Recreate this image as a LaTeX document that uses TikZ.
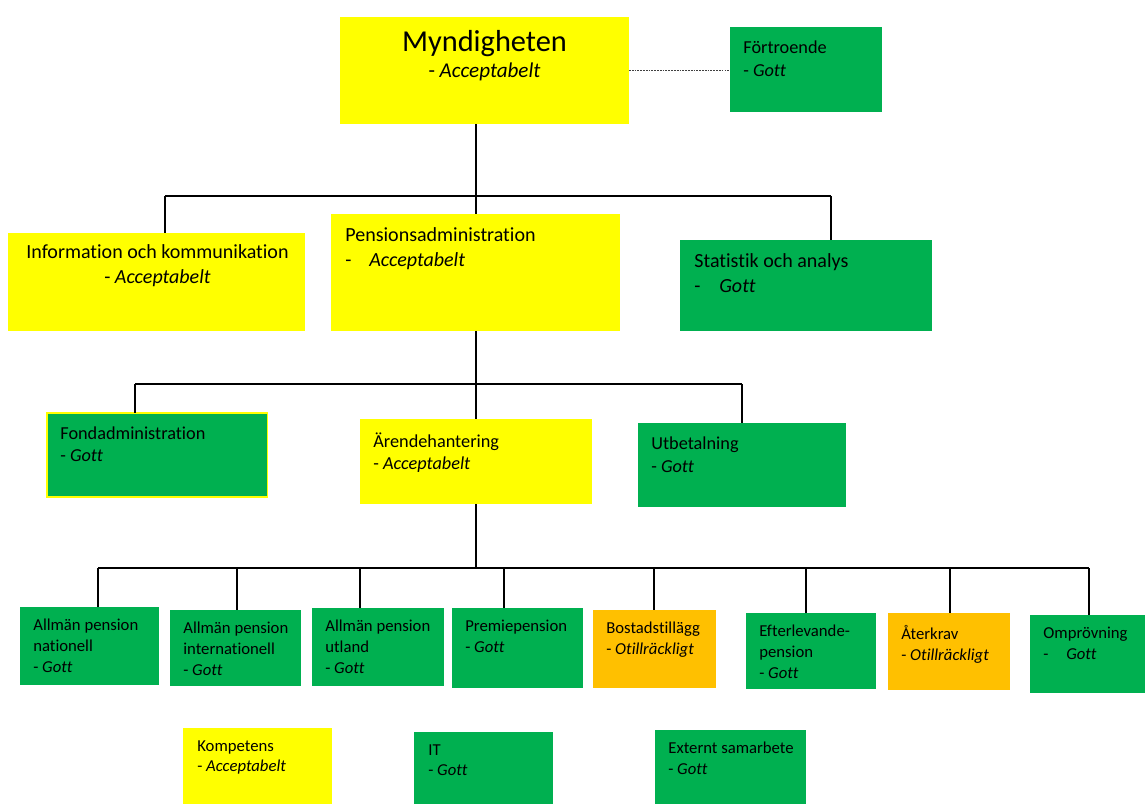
\documentclass[tikz,border=0pt]{standalone}
\usepackage{fontspec}
\setmainfont{Carlito}[Ligatures=NoCommon]
\usetikzlibrary{positioning,calc}
\definecolor{okgreen}{HTML}{00B050}
\definecolor{accyellow}{HTML}{FFFF00}
\definecolor{lowamber}{HTML}{FFC000}

\begin{document}
\begin{tikzpicture}[x=0.02cm,y=-0.02cm,
  box/.style={anchor=north west,inner sep=0pt,outer sep=0pt},
  txtA/.style={anchor=north west,inner sep=0pt,align=left,font=\fontsize{11.4}{14.2}\selectfont,execute at begin node=\strut},
  txtB/.style={anchor=north west,inner sep=0pt,align=left,font=\fontsize{10.4}{12.8}\selectfont,execute at begin node=\strut},
  txtC/.style={anchor=north west,inner sep=0pt,align=left,font=\fontsize{9.5}{11.9}\selectfont,execute at begin node=\strut},
  tree/.style={line width=1.1pt},
  softlink/.style={gray!50!black,line width=1pt,dash pattern=on 1pt off 0.6pt}]
\useasboundingbox (0,0) rectangle (1145,804);

% top level
\node[box,fill=accyellow,minimum width=5.78cm,minimum height=2.14cm] (mynd) at (340,17) {};
\node[anchor=base,inner sep=0pt,font=\fontsize{17.3}{20}\selectfont] (myndT) at ([shift={(0,35)}]mynd.north) {Myndigheten};
\node[anchor=base,inner sep=0pt,font=\fontsize{12}{14}\selectfont] (myndS) at ([shift={(0,61)}]mynd.north) {- \textit{Acceptabelt}};
\node[box,fill=okgreen,minimum width=3.04cm,minimum height=1.70cm] (fort) at (730,27) {};
\node[txtB] (fortT) at ([shift={(13,13.5)}]fort.north west) {Förtroende\\- \textit{Gott}};
\draw[softlink] (mynd.east) -- (mynd.east -| fort.west);

% level 1
\node[box,fill=accyellow,minimum width=5.94cm,minimum height=1.96cm] (info) at (8,233) {};
\node[txtA,anchor=north,align=center] (infoT) at ([shift={(1,11)}]info.north) {Information och kommunikation\\- \textit{Acceptabelt}};
\node[box,fill=accyellow,minimum width=5.78cm,minimum height=2.34cm] (pens) at (331,214) {};
\node[txtA] (pensT) at ([shift={(14,13.7)}]pens.north west) {Pensionsadministration\\\makebox[0.48cm][l]{-}\textit{Acceptabelt}};
\node[box,fill=okgreen,minimum width=5.04cm,minimum height=1.82cm] (stat) at (680,240) {};
\node[txtA] (statT) at ([shift={(14,13)}]stat.north west) {Statistik och analys\\\makebox[0.5cm][l]{-}\textit{Gott}};

\coordinate (j1) at (476,196);
\coordinate (j1l) at (165,196);
\coordinate (j1r) at (831,196);
\draw[tree] (j1 |- mynd.south) -- (j1);
\draw[tree] (j1l) -- (j1r);
\draw[tree] (j1l) -- (j1l |- info.north);
\draw[tree] (j1) -- (j1 |- pens.north);
\draw[tree] (j1r) -- (j1r |- stat.north);

% level 2
\node[box,fill=okgreen,draw=accyellow,line width=0.6pt,minimum width=4.42cm,minimum height=1.68cm] (fond) at (47,413) {};
\node[txtB] (fondT) at ([shift={(13,13)}]fond.north west) {Fondadministration\\- \textit{Gott}};
\node[box,fill=accyellow,minimum width=4.64cm,minimum height=1.70cm] (arende) at (360,419) {};
\node[txtB] (arendeT) at ([shift={(13,13.5)}]arende.north west) {Ärendehantering\\- \textit{Acceptabelt}};
\node[box,fill=okgreen,minimum width=4.16cm,minimum height=1.68cm] (utbet) at (638,423) {};
\node[txtB] (utbetT) at ([shift={(13,13.5)}]utbet.north west) {Utbetalning\\- \textit{Gott}};

\coordinate (j2) at (476,384);
\coordinate (j2l) at (135,384);
\coordinate (j2r) at (742,384);
\draw[tree] (j2 |- pens.south) -- (j2);
\draw[tree] (j2l) -- (j2r);
\draw[tree] (j2l) -- (j2l |- fond.north);
\draw[tree] (j2) -- (j2 |- arende.north);
\draw[tree] (j2r) -- (j2r |- utbet.north);

% level 3
\node[box,fill=okgreen,minimum width=2.78cm,minimum height=1.56cm] (apnat) at (20,607) {};
\node[txtC] (apnatT) at ([shift={(13,12)}]apnat.north west) {Allmän pension\\nationell\\- \textit{Gott}};
\node[box,fill=okgreen,minimum width=2.62cm,minimum height=1.52cm] (apint) at (170,610) {};
\node[txtC] (apintT) at ([shift={(13,12)}]apint.north west) {Allmän pension\\internationell\\- \textit{Gott}};
\node[box,fill=okgreen,minimum width=2.64cm,minimum height=1.56cm] (aputl) at (312,608) {};
\node[txtC] (aputlT) at ([shift={(13,12)}]aputl.north west) {Allmän pension\\utland\\- \textit{Gott}};
\node[box,fill=okgreen,minimum width=2.62cm,minimum height=1.60cm] (prem) at (452,608) {};
\node[txtC] (premT) at ([shift={(13,12)}]prem.north west) {Premiepension\\- \textit{Gott}};
\node[box,fill=lowamber,minimum width=2.46cm,minimum height=1.56cm] (bost) at (593,610) {};
\node[txtC] (bostT) at ([shift={(13,12)}]bost.north west) {Bostadstillägg\\- \textit{Otillräckligt}};
\node[box,fill=okgreen,minimum width=2.60cm,minimum height=1.52cm] (efter) at (746,613) {};
\node[txtC] (efterT) at ([shift={(13,12)}]efter.north west) {Efterlevande-\\pension\\- \textit{Gott}};
\node[box,fill=lowamber,minimum width=2.44cm,minimum height=1.54cm] (aterk) at (888,613) {};
\node[txtC] (aterkT) at ([shift={(13,12)}]aterk.north west) {Återkrav\\- \textit{Otillräckligt}};
\node[box,fill=okgreen,minimum width=2.30cm,minimum height=1.56cm] (ompr) at (1030,615) {};
\node[txtC] (omprT) at ([shift={(13,12)}]ompr.north west) {Omprövning\\\makebox[0.46cm][l]{-}\textit{Gott}};

\coordinate (j3) at (476,568);
\coordinate (j3l) at (98,568);
\coordinate (j3r) at (1089,568);
\draw[tree] (j3 |- arende.south) -- (j3);
\draw[tree] (j3l) -- (j3r);
\draw[tree] (j3l) -- (j3l |- apnat.north);
\draw[tree] (237,568) -- (237,568 |- apint.north);
\draw[tree] (360,568) -- (360,568 |- aputl.north);
\draw[tree] (504,568) -- (504,568 |- prem.north);
\draw[tree] (654,568) -- (654,568 |- bost.north);
\draw[tree] (806,568) -- (806,568 |- efter.north);
\draw[tree] (950,568) -- (950,568 |- aterk.north);
\draw[tree] (j3r) -- (j3r |- ompr.north);

% loose boxes
\node[box,fill=accyellow,minimum width=2.98cm,minimum height=1.52cm] (komp) at (183,728) {};
\node[txtC] (kompT) at ([shift={(14,12)}]komp.north west) {Kompetens\\- \textit{Acceptabelt}};
\node[box,fill=okgreen,minimum width=2.78cm,minimum height=1.44cm] (itx) at (414,732) {};
\node[txtC] (itxT) at ([shift={(14,12)}]itx.north west) {IT\\- \textit{Gott}};
\node[box,fill=okgreen,minimum width=3.02cm,minimum height=1.48cm] (ext) at (655,730) {};
\node[txtC] (extT) at ([shift={(13,12)}]ext.north west) {Externt samarbete\\- \textit{Gott}};
\end{tikzpicture}
\end{document}
